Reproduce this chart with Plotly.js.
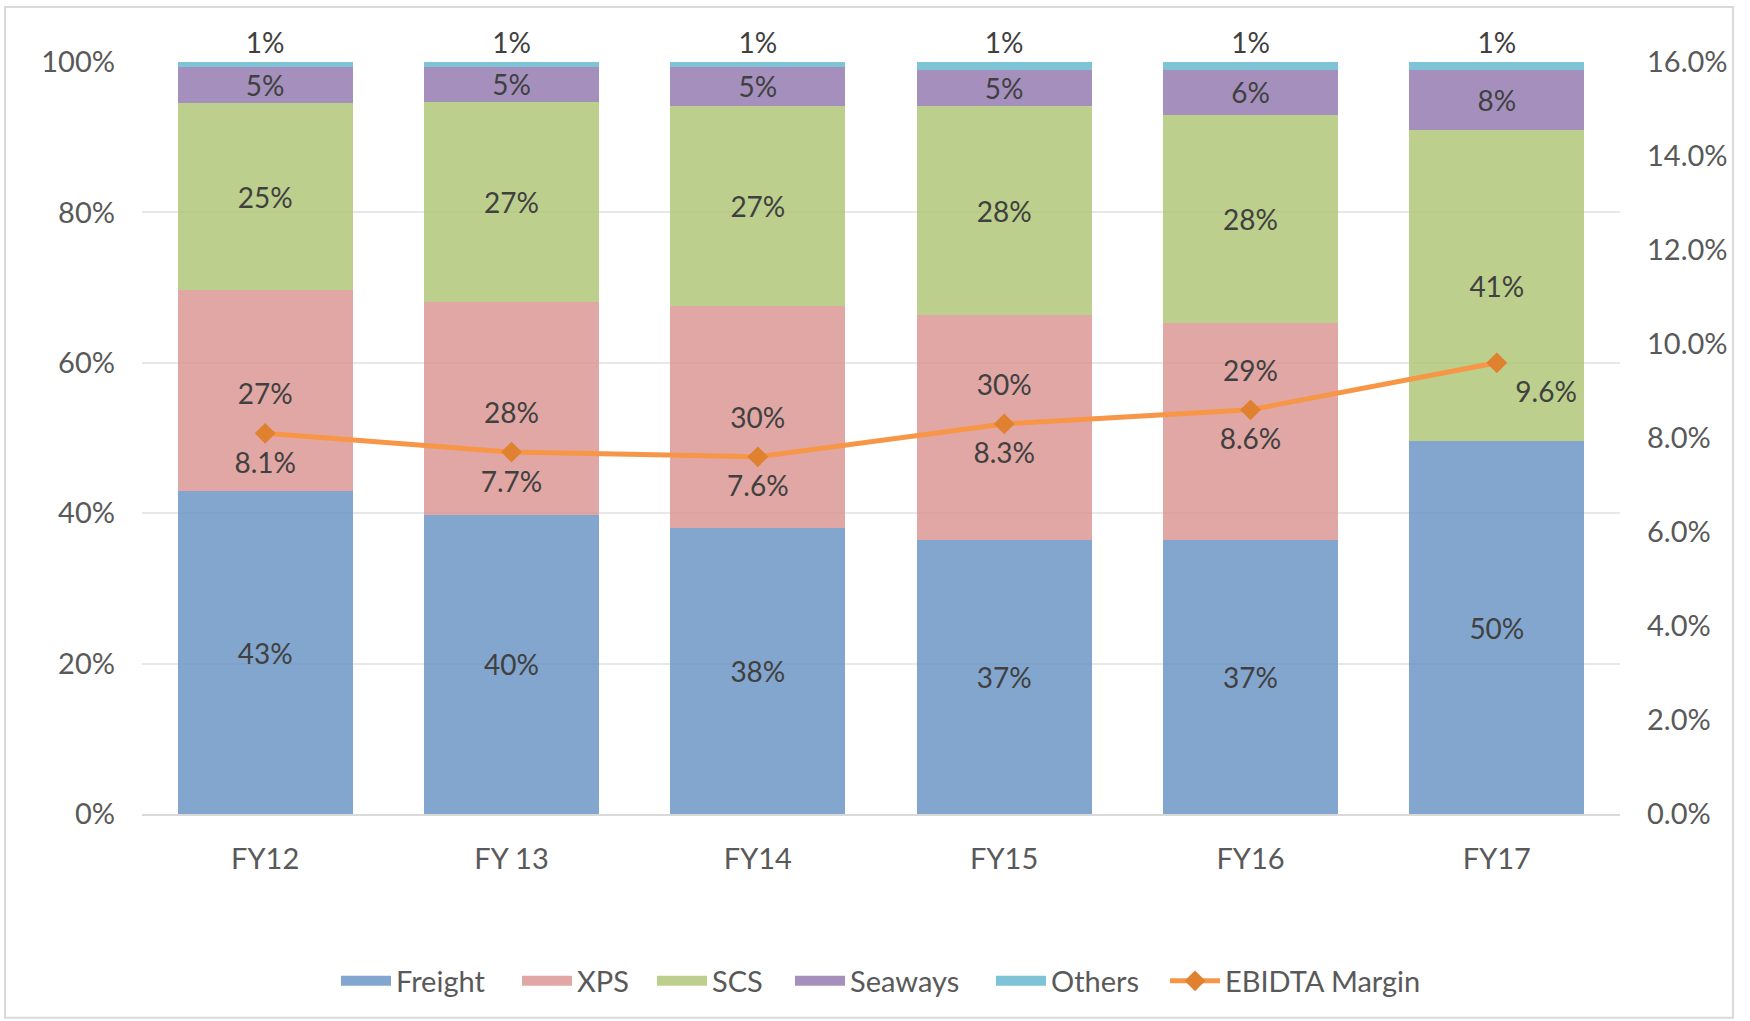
<!DOCTYPE html>
<html>
<head>
<meta charset="utf-8">
<script src="https://cdn.plot.ly/plotly-3.0.1.min.js"></script>
<style>html,body{margin:0;padding:0;background:#fff;}#chart{width:1750px;height:1021px;}</style>
</head>
<body>
<div id="chart"></div>
<script>
const categories = ["FY12", "FY 13", "FY14", "FY15", "FY16", "FY17"];
const freight = [0.429, 0.398, 0.380, 0.365, 0.365, 0.496];
const xps = [0.268, 0.283, 0.295, 0.298, 0.288, null];
const scs = [0.248, 0.266, 0.267, 0.278, 0.277, 0.413];
const seaways = [0.048, 0.047, 0.052, 0.049, 0.060, 0.081];
const others = [0.007, 0.006, 0.006, 0.010, 0.010, 0.010];
const ebitda = [0.081, 0.077, 0.076, 0.083, 0.086, 0.096];
const seriesNames = ["Freight", "XPS", "SCS", "Seaways", "Others"];

// styling
const seriesColors = ["rgba(100,144,194,0.8)", "rgba(216,145,143,0.8)", "rgba(171,195,111,0.8)", "rgba(142,116,172,0.8)", "rgba(95,181,204,0.8)"];
const legendEntryWidths = [116, 70, 73, 136, 109];
const ebitdaLabelPos = ["bottom center", "bottom center", "bottom center", "bottom center", "bottom center", "bottom right"];

const FONT = "Lato, 'Open Sans', sans-serif";
const labelFont = {family: FONT, size: 28, color: "#404040"};

function barTrace(i, values, opts) {
  const t = {
    type: "bar", name: seriesNames[i], x: categories, y: values, showlegend: false,
    marker: {color: seriesColors[i], line: {width: 0}},
    texttemplate: "%{y:.0%}", textposition: "inside",
    insidetextanchor: "middle", constraintext: "none",
    textfont: labelFont, insidetextfont: labelFont, outsidetextfont: labelFont,
    cliponaxis: false, hoverinfo: "name+y"
  };
  return Object.assign(t, opts || {});
}

// legend-only entries with wide rectangular swatches
const legendEntries = seriesNames.map((n, i) => ({
  type: "scatter", mode: "lines", name: n, x: [null], y: [null],
  legendwidth: legendEntryWidths[i],
  line: {color: seriesColors[i], width: 17}, hoverinfo: "skip"
}));

const data = [
  barTrace(0, freight),
  barTrace(1, xps, {texttemplate: "", textposition: "none"}),
  barTrace(2, scs),
  barTrace(3, seaways),
  barTrace(4, others, {textposition: "outside"}),
  ...legendEntries,
  {
    type: "scatter", mode: "lines+markers", name: "EBIDTA Margin",
    x: categories, y: ebitda, yaxis: "y2",
    line: {color: "#F79646", width: 5},
    marker: {symbol: "diamond", size: 16, color: "#E0812F"},
    cliponaxis: false
  },
  // EBITDA value labels, below the points
  {
    type: "scatter", mode: "markers+text", showlegend: false, hoverinfo: "skip",
    x: categories, y: ebitda, yaxis: "y2",
    marker: {size: 28, color: "rgba(0,0,0,0)"},
    texttemplate: "%{y:.1%}", textposition: ebitdaLabelPos,
    textfont: labelFont, cliponaxis: false
  },
  // XPS share labels, placed just above the EBITDA line inside the XPS segment
  {
    type: "scatter", mode: "markers+text", showlegend: false, hoverinfo: "skip",
    x: categories, y: ebitda, yaxis: "y2",
    marker: {size: 34, color: "rgba(0,0,0,0)"},
    text: xps.map(v => v == null ? "" : Math.round(v * 100) + "%"),
    textposition: "top center",
    textfont: labelFont, cliponaxis: false
  }
];

const tickFont = {family: FONT, size: 29, color: "#595959"};

const layout = {
  width: 1750, height: 1021,
  margin: {l: 142, r: 130, t: 62, b: 207},
  paper_bgcolor: "#ffffff", plot_bgcolor: "rgba(0,0,0,0)",
  barmode: "stack", bargap: 0.29,
  font: {family: FONT, size: 29, color: "#595959"},
  showlegend: true,
  legend: {orientation: "h", x: 0.5, xanchor: "center", y: -0.222, yanchor: "middle",
           font: {family: FONT, size: 29, color: "#595959"}, itemwidth: 50, traceorder: "normal"},
  xaxis: {
    type: "category", tickfont: tickFont, showgrid: false,
    showline: true, linecolor: "#D9D9D9", linewidth: 2, ticks: "", ticklabelstandoff: 18
  },
  yaxis: {
    range: [0, 1], tickformat: ".0%", dtick: 0.2, tickfont: tickFont,
    showgrid: true, gridcolor: "#E8E8E8", gridwidth: 2, zeroline: false,
    ticks: "", ticklabelstandoff: 26, fixedrange: true
  },
  yaxis2: {
    overlaying: "y", side: "right", range: [0, 0.16], tickformat: ".1%", dtick: 0.02,
    tickfont: tickFont, showgrid: false, zeroline: false, ticks: "", ticklabelstandoff: 26
  },
  shapes: [{
    type: "rect", xref: "paper", yref: "paper",
    x0: -0.0927, x1: 1.0765, y0: -0.271, y1: 1.073,
    line: {color: "#D9D9D9", width: 2}, fillcolor: "rgba(0,0,0,0)", layer: "below"
  }]
};

Plotly.newPlot("chart", data, layout, {displayModeBar: false, staticPlot: true});
</script>
</body>
</html>
